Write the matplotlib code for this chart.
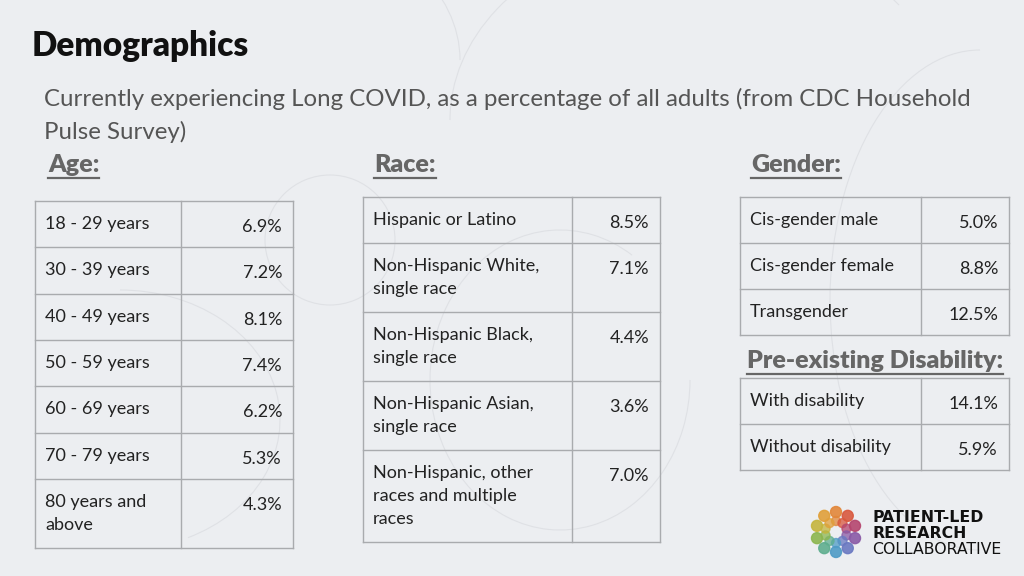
import matplotlib.pyplot as plt
from matplotlib.patches import Circle, Arc
import numpy as np

plt.rcParams['font.family'] = ['Lato', 'DejaVu Sans']

# data
age_labels = ['18 - 29 years', '30 - 39 years', '40 - 49 years', '50 - 59 years',
              '60 - 69 years', '70 - 79 years', '80 years and\nabove']
age_values = [6.9, 7.2, 8.1, 7.4, 6.2, 5.3, 4.3]

race_labels = ['Hispanic or Latino', 'Non-Hispanic White,\nsingle race',
               'Non-Hispanic Black,\nsingle race', 'Non-Hispanic Asian,\nsingle race',
               'Non-Hispanic, other\nraces and multiple\nraces']
race_values = [8.5, 7.1, 4.4, 3.6, 7.0]

gender_labels = ['Cis-gender male', 'Cis-gender female', 'Transgender']
gender_values = [5.0, 8.8, 12.5]

disab_labels = ['With disability', 'Without disability']
disab_values = [14.1, 5.9]

BG = '#eceef1'
LINE = '#a9abae'
TXT = '#222222'
HEAD = '#666666'

fig = plt.figure(figsize=(10.24, 5.76), dpi=100, facecolor=BG)
ax = fig.add_axes([0, 0, 1, 1])
ax.set_xlim(0, 1024)
ax.set_ylim(576, 0)
ax.axis('off')

# faint background curves
for (cx, cy, w, h, a1, a2) in [(250, 60, 420, 300, 200, 360), (700, 120, 500, 380, 180, 330),
                               (980, 300, 300, 500, 90, 270), (120, 420, 320, 260, 270, 420),
                               (560, 380, 260, 300, 0, 300), (330, 240, 130, 130, 0, 360)]:
    ax.add_patch(Arc((cx, cy), w, h, theta1=a1, theta2=a2, color='#dfe1e5', lw=0.8))


def draw_table(x0, xdiv, x1, ytop, labels, values, row_h=None):
    y = ytop
    ax.plot([x0, x1], [y, y], color=LINE, lw=1)
    for lab, val in zip(labels, values):
        n = lab.count('\n') + 1
        h = row_h if (row_h and n == 1) else 23 * (n + 1)
        ax.text(x0 + 10, y + 15, lab, fontsize=13, color=TXT, va='top', ha='left',
                linespacing=1.55)
        ax.text(x1 - 11, y + 18, f'{val:.1f}%', fontsize=13, color=TXT, va='top', ha='right')
        y += h
        ax.plot([x0, x1], [y, y], color=LINE, lw=1)
    for xx in (x0, xdiv, x1):
        ax.plot([xx, xx], [ytop, y], color=LINE, lw=1)


def header(x, y, s):
    t = ax.text(x, y, s, fontsize=18, fontweight='heavy', color=HEAD, va='center', ha='left')
    fig.canvas.draw()
    bb = t.get_window_extent()
    ax.plot([x, x + bb.width], [y + 13, y + 13], color=HEAD, lw=1.6)


ax.text(32, 46, 'Demographics', fontsize=24, fontweight='heavy', color='#111111', va='center')
ax.text(44, 115, 'Currently experiencing Long COVID, as a percentage of all adults (from CDC Household\nPulse Survey)',
        fontsize=17.3, color='#555555', va='center', linespacing=1.6)

header(48, 165, 'Age:')
header(374, 165, 'Race:')
header(751, 165, 'Gender:')
header(747, 361, 'Pre-existing Disability:')

draw_table(35, 181, 293, 201, age_labels, age_values, row_h=46.3)
draw_table(363, 572, 660, 197, race_labels, race_values)
draw_table(740, 921, 1009, 197, gender_labels, gender_values)
draw_table(740, 921, 1009, 378, disab_labels, disab_values)

# logo
logo_cols = ['#e2873a', '#d9583e', '#b5456e', '#8a5aa6', '#6a79c2', '#4f9bc6',
             '#5fae8f', '#8cb64f', '#c5b53d', '#e0a03a']
ang = np.linspace(90, 90 - 360, len(logo_cols), endpoint=False)
for a, c in zip(ang, logo_cols):
    r = np.deg2rad(a)
    ax.add_patch(Circle((836 + 20 * np.cos(r), 532 - 20 * np.sin(r)), 5.5, color=c, alpha=0.9))
    ax.add_patch(Circle((836 + 11 * np.cos(r), 532 - 11 * np.sin(r)), 4.5, color=c, alpha=0.75))
ax.text(872, 517, 'PATIENT-LED', fontsize=11.3, fontweight='heavy', color='#111111', va='center',
        family=['DejaVu Sans'])
ax.text(872, 533, 'RESEARCH', fontsize=11.3, fontweight='heavy', color='#111111', va='center',
        family=['DejaVu Sans'])
ax.text(872, 550, 'COLLABORATIVE', fontsize=11.3, color='#111111', va='center', family=['DejaVu Sans'])

plt.savefig('out.png', dpi=100, facecolor=BG)
